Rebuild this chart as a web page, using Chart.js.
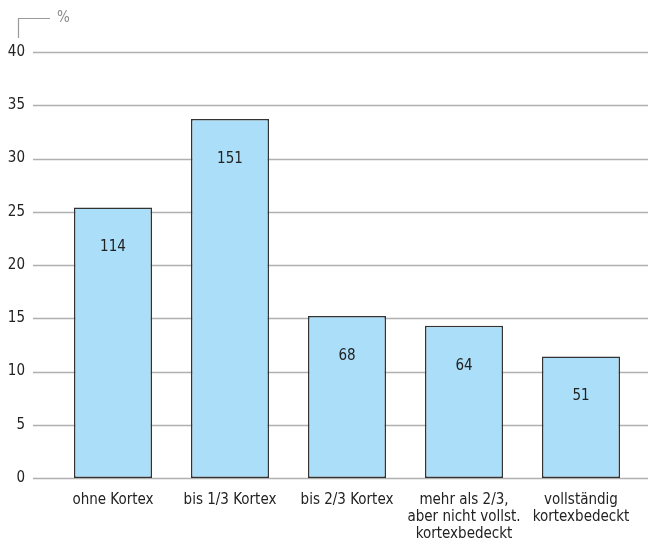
<!DOCTYPE html>
<html>
<head>
<meta charset="utf-8">
<script src="https://cdn.jsdelivr.net/npm/chart.js@4"></script>
<style>
  html, body { margin: 0; padding: 0; background: #fff; }
  #wrap { position: relative; width: 648px; height: 544px; }
</style>
</head>
<body>
<div id="wrap"><canvas id="c" width="648" height="544"></canvas></div>
<script>
// Share of cases per cortex coverage group (%), with the case counts shown inside each bar
const categories = [
  'ohne Kortex',
  'bis 1/3 Kortex',
  'bis 2/3 Kortex',
  ['mehr als 2/3,', 'aber nicht vollst.', 'kortexbedeckt'],
  ['vollständig', 'kortexbedeckt']
];
const percentValues = [25.4, 33.7, 15.2, 14.3, 11.4];
const caseCounts = [114, 151, 68, 64, 51];
const yTicks = [0, 5, 10, 15, 20, 25, 30, 35, 40];
const unitLabel = '%';

const FONT = "'DejaVu Sans Condensed', 'Liberation Sans', sans-serif";

// Horizontal grid lines running past the plot area, plus the unit marker at the top
const gridAndUnit = {
  id: 'gridAndUnit',
  beforeDatasetsDraw(chart) {
    const { ctx } = chart;
    const y = chart.scales.y;
    ctx.save();
    ctx.strokeStyle = '#b0b0b0';
    ctx.lineWidth = 1.5;
    yTicks.forEach(v => {
      const py = Math.round(y.getPixelForValue(v)) + 0.5;
      ctx.beginPath();
      ctx.moveTo(33, py);
      ctx.lineTo(chart.width, py);
      ctx.stroke();
    });
    // unit bracket
    ctx.strokeStyle = '#9a9a9a';
    ctx.lineWidth = 1.2;
    ctx.beginPath();
    ctx.moveTo(18.5, 38);
    ctx.lineTo(18.5, 18.5);
    ctx.lineTo(50, 18.5);
    ctx.stroke();
    ctx.fillStyle = '#8a8a8a';
    ctx.font = '15px ' + FONT;
    ctx.textAlign = 'left';
    ctx.textBaseline = 'middle';
    ctx.fillText(unitLabel, 57, 18);
    ctx.restore();
  }
};

// Case counts written inside the bars
const countLabels = {
  id: 'countLabels',
  afterDatasetsDraw(chart) {
    const { ctx } = chart;
    const meta = chart.getDatasetMeta(0);
    ctx.save();
    ctx.fillStyle = '#222';
    ctx.font = '15px ' + FONT;
    ctx.textAlign = 'center';
    ctx.textBaseline = 'middle';
    meta.data.forEach((bar, i) => {
      ctx.fillText(String(caseCounts[i]), bar.x, bar.y + 40);
    });
    ctx.restore();
  }
};

new Chart(document.getElementById('c'), {
  type: 'bar',
  data: {
    labels: categories,
    datasets: [{
      data: percentValues,
      backgroundColor: '#abdff9',
      borderColor: '#333333',
      borderWidth: 1.5,
      borderSkipped: false,
      categoryPercentage: 1,
      barPercentage: 0.667
    }]
  },
  options: {
    responsive: false,
    animation: false,
    layout: { padding: { top: 52, right: 8.5, left: 0, bottom: 0 } },
    plugins: { legend: { display: false }, tooltip: { enabled: false } },
    scales: {
      x: {
        grid: { display: false, drawTicks: false },
        border: { display: false },
        ticks: {
          color: '#222',
          font: { family: FONT, size: 15, lineHeight: 1.13 },
          padding: 14,
          maxRotation: 0,
          autoSkip: false
        },
        afterFit(scale) { scale.height = 66; }
      },
      y: {
        min: 0,
        max: 40,
        grid: { display: false, drawTicks: false },
        border: { display: false },
        ticks: {
          stepSize: 5,
          color: '#222',
          font: { family: FONT, size: 15 },
          padding: 29.5
        },
        afterFit(scale) { scale.width = 54.5; }
      }
    }
  },
  plugins: [gridAndUnit, countLabels]
});
</script>
</body>
</html>
